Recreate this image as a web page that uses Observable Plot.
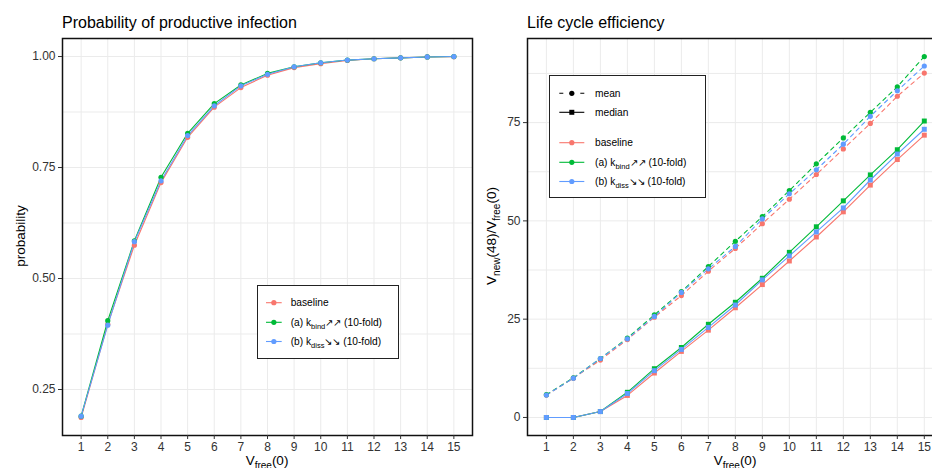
<!DOCTYPE html>
<html><head><meta charset="utf-8">
<script src="https://cdn.jsdelivr.net/npm/d3@7"></script>
<script src="https://cdn.jsdelivr.net/npm/@observablehq/plot@0.6"></script>
<style>
html,body{margin:0;padding:0;background:#fff;}
#wrap{position:relative;width:932px;height:468px;overflow:hidden;font-family:"Liberation Sans",Arial,Helvetica,sans-serif;}
#left,#right,#over{position:absolute;top:0;}
#left{left:0;width:480px;height:468px}
#right{left:462px;width:490px;height:468px}
#over{left:0;pointer-events:none}
#left svg,#right svg{max-width:none}
</style></head><body>
<div id="wrap"><div id="left"></div><div id="right"></div><svg id="over" width="932" height="468"></svg></div>
<script>
// ---- data ----
const vfree = [1,2,3,4,5,6,7,8,9,10,11,12,13,14,15];
const seriesKeys = ["baseline","kbind","kdiss"];
const seriesColors = ["#F8766D","#00BA38","#619CFF"];

const probBaseline = [0.187,0.397,0.575,0.716,0.818,0.886,0.930,0.958,0.975,0.984,0.991,0.995,0.997,0.999,0.9995];
const probKbind    = [0.190,0.405,0.585,0.728,0.827,0.894,0.936,0.962,0.977,0.986,0.992,0.995,0.997,0.999,1.000];
const probKdiss    = [0.190,0.395,0.583,0.720,0.822,0.889,0.934,0.960,0.977,0.986,0.992,0.995,0.997,0.999,1.000];

const meanBaseline = [5.7,10.0,14.6,19.8,25.5,31.0,37.2,43.0,49.3,55.5,61.8,68.3,74.8,81.7,87.6];
const meanKbind    = [5.8,10.1,15.0,20.2,26.1,32.0,38.4,44.8,51.1,57.7,64.5,71.1,77.6,84.1,91.8];
const meanKdiss    = [5.7,10.0,15.0,20.0,25.7,31.8,37.8,43.5,50.5,56.9,63.0,69.5,76.6,83.1,89.4];

const medianBaseline = [0,0,1.5,5.6,11.3,16.8,22.2,27.9,33.8,39.8,45.9,52.3,59.1,65.6,71.8];
const medianKbind    = [0,0,1.5,6.4,12.4,17.8,23.7,29.3,35.4,42.0,48.5,55.1,61.7,68.1,75.4];
const medianKdiss    = [0,0,1.5,6.1,11.9,17.3,22.9,28.6,35.0,41.1,47.2,53.3,60.4,67.0,73.3];

const probTicks = [0.25,0.50,0.75,1.00];
const probMinor = [0.375,0.625,0.875];
const effTicks = [0,25,50,75];
const effMinor = [12.5,37.5,62.5,87.5];

// ---- tidy tables ----
function tidy(arrs){
  const out=[];
  arrs.forEach((a,i)=>a.forEach((v,j)=>out.push({v:vfree[j], y:v, series:seriesKeys[i]})));
  return out;
}
const probData = tidy([probBaseline,probKbind,probKdiss]);
const meanData = tidy([meanBaseline,meanKbind,meanKdiss]);
const medianData = tidy([medianBaseline,medianKbind,medianKdiss]);

const FONT = '"Liberation Sans",Arial,Helvetica,sans-serif';
const baseStyle = {fontFamily:FONT, fontSize:"12px", color:"#333", background:"transparent", overflow:"visible", maxWidth:"none"};
const gridStyle = {stroke:"#ebebeb", strokeOpacity:1, strokeWidth:1};

const left = Plot.plot({
  width:480, height:468, marginLeft:62, marginRight:8, marginTop:38, marginBottom:33,
  style:baseStyle,
  x:{domain:[0.3,15.7]},
  y:{domain:[0.1464,1.0406]},
  color:{domain:seriesKeys, range:seriesColors},
  marks:[
    Plot.gridX(vfree, gridStyle),
    Plot.gridY(probTicks.concat(probMinor), gridStyle),
    Plot.line(probData,{x:"v",y:"y",stroke:"series",z:"series",strokeWidth:1.1}),
    Plot.dot(probData,{x:"v",y:"y",fill:"series",r:2.6}),
    Plot.frame({stroke:"#111",strokeWidth:1.5}),
    Plot.axisX(vfree,{tickSize:4,tickPadding:3,label:null,tickFormat:d=>String(d),stroke:"#333",fill:"#333"}),
    Plot.axisY(probTicks,{tickSize:4,tickPadding:3,label:null,tickFormat:d3.format(".2f"),stroke:"#333",fill:"#333"})
  ]
});
document.getElementById("left").appendChild(left);

const right = Plot.plot({
  width:490, height:468, marginLeft:65, marginRight:9.3, marginTop:38, marginBottom:33,
  style:baseStyle,
  x:{domain:[0.3,15.7]},
  y:{domain:[-4.59,96.39]},
  color:{domain:seriesKeys, range:seriesColors},
  marks:[
    Plot.gridX(vfree, gridStyle),
    Plot.gridY(effTicks.concat(effMinor), gridStyle),
    Plot.line(meanData,{x:"v",y:"y",stroke:"series",z:"series",strokeWidth:1.1,strokeDasharray:"4,4"}),
    Plot.dot(meanData,{x:"v",y:"y",fill:"series",r:2.6,symbol:"circle"}),
    Plot.line(medianData,{x:"v",y:"y",stroke:"series",z:"series",strokeWidth:1.1}),
    Plot.dot(medianData,{x:"v",y:"y",fill:"series",r:2.8,symbol:"square"}),
    Plot.frame({stroke:"#111",strokeWidth:1.5}),
    Plot.axisX(vfree,{tickSize:4,tickPadding:3,label:null,tickFormat:d=>String(d),stroke:"#333",fill:"#333"}),
    Plot.axisY(effTicks,{tickSize:4,tickPadding:3,label:null,tickFormat:d=>String(d),stroke:"#333",fill:"#333"})
  ]
});
document.getElementById("right").appendChild(right);

// ---- overlay texts & legends ----
const over = d3.select("#over").style("font-family", FONT);

function rich(sel, parts, subSize){
  let pending = 0;
  parts.forEach(p=>{
    if (typeof p === "string") {
      const t = sel.append("tspan").text(p);
      if (pending) { t.attr("dy", pending); pending = 0; }
    } else {
      sel.append("tspan").attr("font-size", subSize).attr("dy", subSize*0.35).text(p.sub);
      pending = -subSize*0.35;
    }
  });
  return sel;
}

// titles
over.append("text").attr("x",62).attr("y",27.5).attr("font-size",16).attr("fill","#000").text("Probability of productive infection");
over.append("text").attr("x",527).attr("y",27.5).attr("font-size",16).attr("fill","#000").text("Life cycle efficiency");

// x-axis titles
rich(over.append("text").attr("x",267).attr("y",465).attr("text-anchor","middle").attr("font-size",13.5).attr("fill","#000"), ["V",{sub:"free"},"(0)"], 10);
rich(over.append("text").attr("x",735).attr("y",465).attr("text-anchor","middle").attr("font-size",13.5).attr("fill","#000"), ["V",{sub:"free"},"(0)"], 10);

// y-axis titles
over.append("text").attr("transform","translate(24.5,236) rotate(-90)").attr("text-anchor","middle").attr("font-size",13.5).attr("fill","#000").text("probability");
rich(over.append("text").attr("transform","translate(496,236) rotate(-90)").attr("text-anchor","middle").attr("font-size",13.5).attr("fill","#000"), ["V",{sub:"new"},"(48)/V",{sub:"free"},"(0)"], 10);

const seriesLabels = [
  ["baseline"],
  ["(a) k",{sub:"bind"},"\u2197\u2197 (10-fold)"],
  ["(b) k",{sub:"diss"},"\u2198\u2198 (10-fold)"]
];

function legendKey(g, x0, x1, y, color, dash, symbol){
  const ln = g.append("line").attr("x1",x0).attr("x2",x1).attr("y1",y).attr("y2",y).attr("stroke",color).attr("stroke-width",1.1);
  if (dash) ln.attr("stroke-dasharray",dash);
  const cx=(x0+x1)/2;
  if (symbol==="square") g.append("rect").attr("x",cx-2.5).attr("y",y-2.5).attr("width",5).attr("height",5).attr("fill",color);
  else g.append("circle").attr("cx",cx).attr("cy",y).attr("r",2.6).attr("fill",color);
}

// left legend
{
  const g = over.append("g");
  g.append("rect").attr("x",257.5).attr("y",285.5).attr("width",141).attr("height",73).attr("fill","#fff").attr("stroke","#222").attr("stroke-width",1);
  const rows=[302.7,322.3,341.5];
  rows.forEach((y,i)=>{
    legendKey(g,266,281.7,y,seriesColors[i],null,"circle");
    rich(g.append("text").attr("x",290.7).attr("y",y+3.6).attr("font-size",10.2).attr("fill","#000"), seriesLabels[i], 7.5);
  });
}
// right legend
{
  const g = over.append("g");
  g.append("rect").attr("x",549.5).attr("y",75.5).attr("width",156).attr("height",122).attr("fill","#fff").attr("stroke","#222").attr("stroke-width",1);
  legendKey(g,559.3,584.3,93.3,"#000","4,6.5","circle");
  g.append("text").attr("x",595).attr("y",93.3+3.6).attr("font-size",10.2).attr("fill","#000").text("mean");
  legendKey(g,559.3,584.3,112.3,"#000",null,"square");
  g.append("text").attr("x",595).attr("y",112.3+3.6).attr("font-size",10.2).attr("fill","#000").text("median");
  const rows=[142.7,162.3,181.5];
  rows.forEach((y,i)=>{
    legendKey(g,559.3,584.3,y,seriesColors[i],null,"circle");
    rich(g.append("text").attr("x",595).attr("y",y+3.6).attr("font-size",10.2).attr("fill","#000"), seriesLabels[i], 7.5);
  });
}
</script>
</body></html>
